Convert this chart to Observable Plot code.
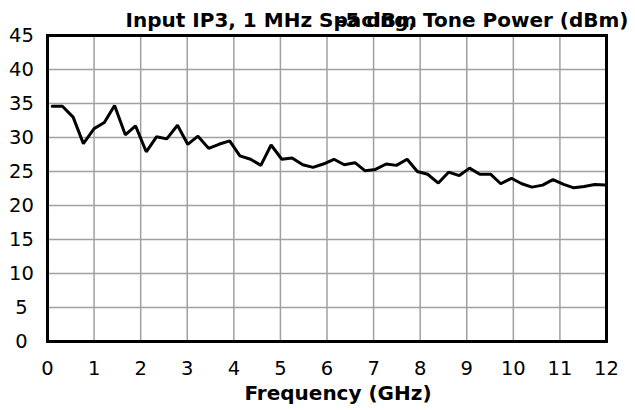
<!DOCTYPE html>
<html>
<head>
<meta charset="utf-8">
<script src="https://cdn.jsdelivr.net/npm/d3@7"></script>
<script src="https://cdn.jsdelivr.net/npm/@observablehq/plot@0.6"></script>
<style>
  html, body { margin: 0; padding: 0; background: #fff; }
  #chart svg { display: block; }
</style>
</head>
<body>
<div id="chart"></div>
<script>
// Frequency (GHz) of each measured point
const freqGHz = [0.10, 0.32, 0.55, 0.77, 1.00, 1.22, 1.44, 1.67, 1.89, 2.12,
  2.34, 2.56, 2.79, 3.01, 3.23, 3.46, 3.68, 3.91, 4.13, 4.36,
  4.58, 4.80, 5.03, 5.25, 5.48, 5.70, 5.92, 6.15, 6.37, 6.60,
  6.82, 7.04, 7.27, 7.49, 7.72, 7.94, 8.16, 8.39, 8.61, 8.84,
  9.06, 9.28, 9.51, 9.73, 9.96, 10.18, 10.40, 10.63, 10.85, 11.08,
  11.30, 11.52, 11.75, 11.97];
// Input IP3 (dBm)
const ip3dBm = [34.6, 34.6, 33.0, 29.1, 31.3, 32.2, 34.7, 30.4, 31.7, 27.9,
  30.1, 29.8, 31.8, 29.0, 30.2, 28.4, 29.0, 29.5, 27.3, 26.8,
  25.9, 28.9, 26.8, 27.0, 26.0, 25.6, 26.1, 26.8, 26.0, 26.3,
  25.1, 25.3, 26.1, 25.9, 26.8, 25.0, 24.6, 23.3, 24.9, 24.4,
  25.5, 24.6, 24.6, 23.2, 24.0, 23.2, 22.7, 23.0, 23.8, 23.1,
  22.6, 22.8, 23.1, 23.0];
const xTicks = [0, 1, 2, 3, 4, 5, 6, 7, 8, 9, 10, 11, 12];
const yTicks = [0, 5, 10, 15, 20, 25, 30, 35, 40, 45];
const titleText = "Input IP3, 1 MHz Spacing, Tone Power (dBm)";
const subTitleText = "-5 dBm";
const xLabel = "Frequency (GHz)";

const data = freqGHz.map((f, i) => ({ f, v: ip3dBm[i] }));

const chart = Plot.plot({
  width: 635,
  height: 410,
  marginLeft: 47,
  marginRight: 29,
  marginTop: 35,
  marginBottom: 69,
  style: { fontFamily: "DejaVu Sans", fontSize: "19.5px", color: "#000", background: "#fff", overflow: "visible" },
  x: { domain: [0, 12] },
  y: { domain: [0, 45] },
  marks: [
    Plot.gridX(xTicks, { stroke: "#a0a0a0", strokeOpacity: 1, strokeWidth: 1.5 }),
    Plot.gridY(yTicks, { stroke: "#a0a0a0", strokeOpacity: 1, strokeWidth: 1.5 }),
    Plot.line(data, { x: "f", y: "v", stroke: "#000", strokeWidth: 3, strokeLinejoin: "miter" }),
    Plot.frame({ stroke: "#000", strokeWidth: 3 }),
    Plot.axisX(xTicks, { tickSize: 0, tickPadding: 20, label: null, fontSize: 19.5 }),
    Plot.axisY(yTicks, { tickSize: 0, tickPadding: 26, textAnchor: "middle", label: null, fontSize: 19.5 }),
    Plot.text([titleText], { frameAnchor: "top", dx: 50, dy: -15, lineAnchor: "middle", textAnchor: "middle", fontWeight: "bold", fontSize: 20, fill: "#000" }),
    Plot.text([subTitleText], { frameAnchor: "top", dx: 50, dy: -15, lineAnchor: "middle", textAnchor: "middle", fontWeight: "bold", fontSize: 20, fill: "#000" }),
    Plot.text([xLabel], { frameAnchor: "bottom", dx: 11, dy: 52, lineAnchor: "middle", textAnchor: "middle", fontWeight: "bold", fontSize: 20, fill: "#000" })
  ]
});
document.getElementById("chart").appendChild(chart);
</script>
</body>
</html>
